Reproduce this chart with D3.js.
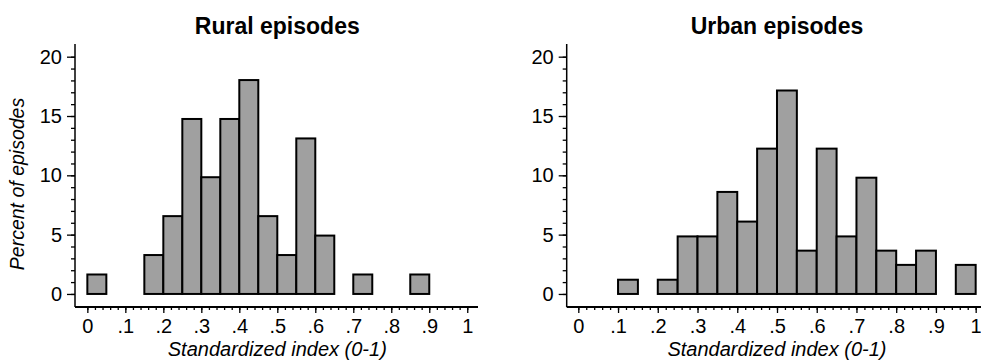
<!DOCTYPE html>
<html>
<head>
<meta charset="utf-8">
<script src="https://cdn.jsdelivr.net/npm/d3@7"></script>
<style>
    body { margin: 0; background: #fff; }
    text { font-family: "Liberation Sans", Arial, sans-serif; fill: #000; }
</style>
</head>
<body>
<svg id="chart" width="981" height="360"></svg>
<script>
'use strict';

// histogram bins (lower edge, width .05) and percent of episodes
const binWidth = 0.05;
const ruralBins = [0, .15, .2, .25, .3, .35, .4, .45, .5, .55, .6, .7, .85];
const ruralPct = [1.64, 3.28, 6.56, 14.75, 9.84, 14.75, 18.03, 6.56, 3.28, 13.11, 4.92, 1.64, 1.64];
const urbanBins = [.1, .2, .25, .3, .35, .4, .45, .5, .55, .6, .65, .7, .75, .8, .85, .95];
const urbanPct = [1.2, 1.2, 4.85, 4.85, 8.6, 6.1, 12.25, 17.15, 3.65, 12.25, 4.85, 9.8, 3.65, 2.45, 3.65, 2.45];

const yTicks = [0, 5, 10, 15, 20];
const yMinor = d3.range(0, 21, 1);
const xTicks = d3.range(0, 11).map(d => d / 10);
const xMinor = d3.range(0, 51).map(d => d / 50);

const svg = d3.select('#chart');

function tickLabel(d)
{
    if (d === 0) return '0';
    if (d === 1) return '1';
    return d3.format('.1f')(d).replace('0.', '.');
}

function drawPanel(opts)
{
    const x = d3.scaleLinear().domain(opts.xDomain).range(opts.xRange);
    const y = d3.scaleLinear().domain([-1.1, 21.07]).range([307, 44]);
    const g = svg.append('g');
    const data = opts.bins.map((b, i) => ({ x0: b, pct: opts.values[i] }));

    g.selectAll('rect.bar')
        .data(data).enter().append('rect')
        .attr('class', 'bar')
        .attr('x', d => x(d.x0))
        .attr('y', d => y(d.pct))
        .attr('width', d => x(d.x0 + binWidth) - x(d.x0))
        .attr('height', d => y(0) - y(d.pct))
        .style('fill', '#a0a0a0')
        .style('stroke', '#000')
        .style('stroke-width', 2);

    // y axis
    const yAxis = g.append('g').attr('transform', 'translate(' + opts.xRange[0] + ',0)');
    yAxis.call(d3.axisLeft(y).tickValues(yMinor).tickSize(4).tickFormat(''));
    yAxis.append('g').call(d3.axisLeft(y).tickValues(yTicks).tickSize(8).tickPadding(5));
    yAxis.selectAll('.domain').remove();
    yAxis.append('line')
        .attr('y1', y.range()[0]).attr('y2', y.range()[1])
        .style('stroke', '#000').style('stroke-width', 1.5);

    // x axis
    const xAxis = g.append('g').attr('transform', 'translate(0,307)');
    xAxis.call(d3.axisBottom(x).tickValues(xMinor).tickSize(3).tickFormat(''));
    xAxis.append('g').call(d3.axisBottom(x).tickValues(xTicks).tickSize(6).tickPadding(6).tickFormat(tickLabel));
    xAxis.selectAll('.domain').remove();
    xAxis.append('line')
        .attr('x1', opts.xRange[0]).attr('x2', opts.xRange[1])
        .style('stroke', '#000').style('stroke-width', 2);

    g.selectAll('.tick line').style('stroke', '#000').style('stroke-width', 1.3);
    g.selectAll('.tick text').style('font-size', '20px').attr('fill', '#000');

    const mid = (x(0) + x(1)) / 2;

    g.append('text')
        .attr('x', mid).attr('y', 34)
        .attr('text-anchor', 'middle')
        .style('font-size', '23px').style('font-weight', 'bold')
        .text(opts.title);

    g.append('text')
        .attr('x', mid).attr('y', 356)
        .attr('text-anchor', 'middle')
        .style('font-size', '20px').style('font-style', 'italic')
        .text('Standardized index (0-1)');

    if (opts.yTitle)
    {
        g.append('text')
            .attr('transform', 'translate(24,184) rotate(-90)')
            .attr('text-anchor', 'middle')
            .style('font-size', '19.5px').style('font-style', 'italic')
            .text(opts.yTitle);
    }
}

drawPanel({
    title: 'Rural episodes',
    yTitle: 'Percent of episodes',
    bins: ruralBins,
    values: ruralPct,
    xDomain: [-0.0325, 1.0283],
    xRange: [75, 478]
});

drawPanel({
    title: 'Urban episodes',
    yTitle: null,
    bins: urbanBins,
    values: urbanPct,
    xDomain: [-0.0292, 1.0134],
    xRange: [566.7, 981]
});
</script>
</body>
</html>
